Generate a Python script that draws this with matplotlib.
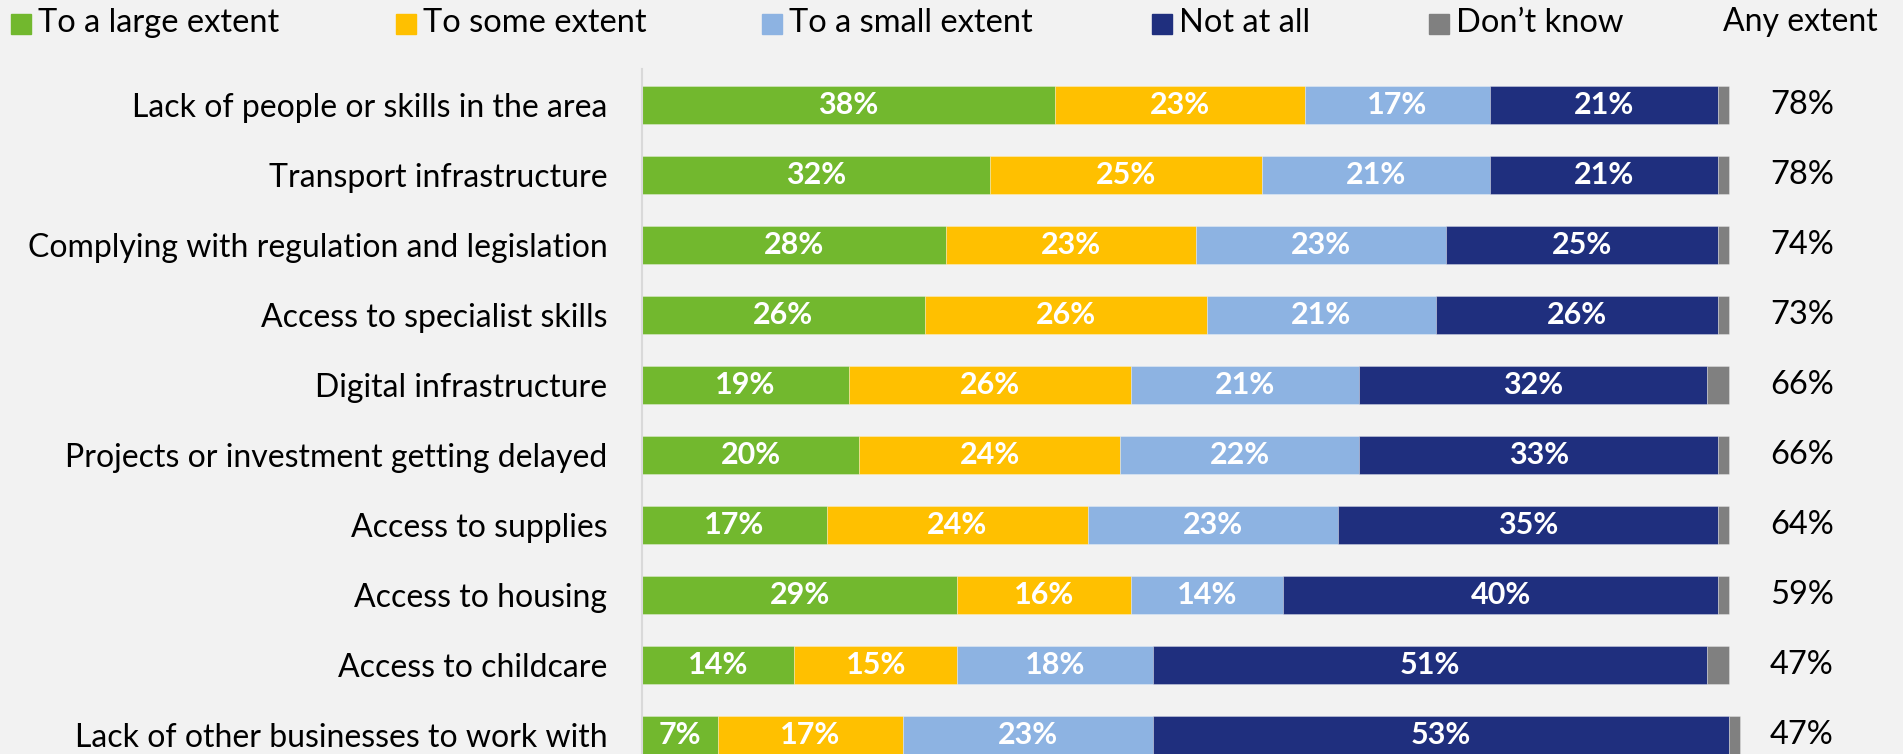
import matplotlib
matplotlib.use("Agg")
import matplotlib.pyplot as plt
import numpy as np

categories = [
    "Lack of people or skills in the area",
    "Transport infrastructure",
    "Complying with regulation and legislation",
    "Access to specialist skills",
    "Digital infrastructure",
    "Projects or investment getting delayed",
    "Access to supplies",
    "Access to housing",
    "Access to childcare",
    "Lack of other businesses to work with",
]
large_extent = [38, 32, 28, 26, 19, 20, 17, 29, 14, 7]
some_extent = [23, 25, 23, 26, 26, 24, 24, 16, 15, 17]
small_extent = [17, 21, 23, 21, 21, 22, 23, 14, 18, 23]
not_at_all = [21, 21, 25, 26, 32, 33, 35, 40, 51, 53]
dont_know = [1, 1, 1, 1, 2, 1, 1, 1, 2, 1]
any_extent = [78, 78, 74, 73, 66, 66, 64, 59, 47, 47]

series_names = ["To a large extent", "To some extent", "To a small extent",
                "Not at all", "Don\u2019t know"]
series_values = [large_extent, some_extent, small_extent, not_at_all, dont_know]
series_colors = ["#72B82E", "#FFC000", "#8DB3E2", "#1F2F7E", "#808080"]
labelled = [True, True, True, True, False]

BG = "#F2F2F2"
FONT = "Lato"
W, H = 1903, 754

fig = plt.figure(figsize=(W / 100, H / 100), dpi=100, facecolor=BG)
ax = fig.add_axes([642 / W, 0.0, (1729 - 642) / W, (754 - 69) / H], facecolor=BG)

y = np.arange(len(categories))
left = np.zeros(len(categories))
for name, vals, col, lab in zip(series_names, series_values, series_colors, labelled):
    vals = np.array(vals, dtype=float)
    bars = ax.barh(y, vals, left=left, height=0.545, color=col,
                   edgecolor=(1, 1, 1, 0.35), linewidth=0.6, label=name)
    for b in bars:
        b.set_clip_on(False)
    if lab:
        for yi, l, v in zip(y, left, vals):
            ax.text(l + v / 2, yi, f"{int(v)}%", ha="center", va="center",
                    color="white", fontsize=22, fontweight="bold", family=FONT)
    left += vals

ax.set_xlim(0, 100)
ax.set_ylim(9.27, -0.514)
for s in ["top", "right", "bottom"]:
    ax.spines[s].set_visible(False)
ax.spines["left"].set_color("#D9D9D9")
ax.spines["left"].set_linewidth(1.5)
ax.set_xticks([])
ax.set_yticks(y)
ax.set_yticklabels(categories, fontsize=23, family=FONT, color="black")
ax.tick_params(axis="y", length=0, pad=25)

# "Any extent" totals column
for yi, v in zip(y, any_extent):
    ax.annotate(f"{v}%", xy=(1, yi), xycoords=("axes fraction", "data"),
                xytext=(1802 - 1729, 0), textcoords="offset pixels",
                ha="center", va="center", fontsize=23.5, family=FONT, color="black")
fig.text(1800 / W, 1 - 22 / H, "Any extent", ha="center", va="center",
         fontsize=23, family=FONT, color="black")

# Legend drawn as a row of square markers and labels
legend_x = [11, 396, 762, 1152, 1429]
for x0, name, col in zip(legend_x, series_names, series_colors):
    fig.patches.append(plt.Rectangle((x0 / W, 1 - 34 / H), 20 / W, 20 / H,
                                     transform=fig.transFigure, color=col))
    fig.text((x0 + 27) / W, 1 - 23 / H, name, ha="left", va="center",
             fontsize=23.5, family=FONT, color="black")

fig.savefig("out.png", dpi=100, facecolor=BG)
